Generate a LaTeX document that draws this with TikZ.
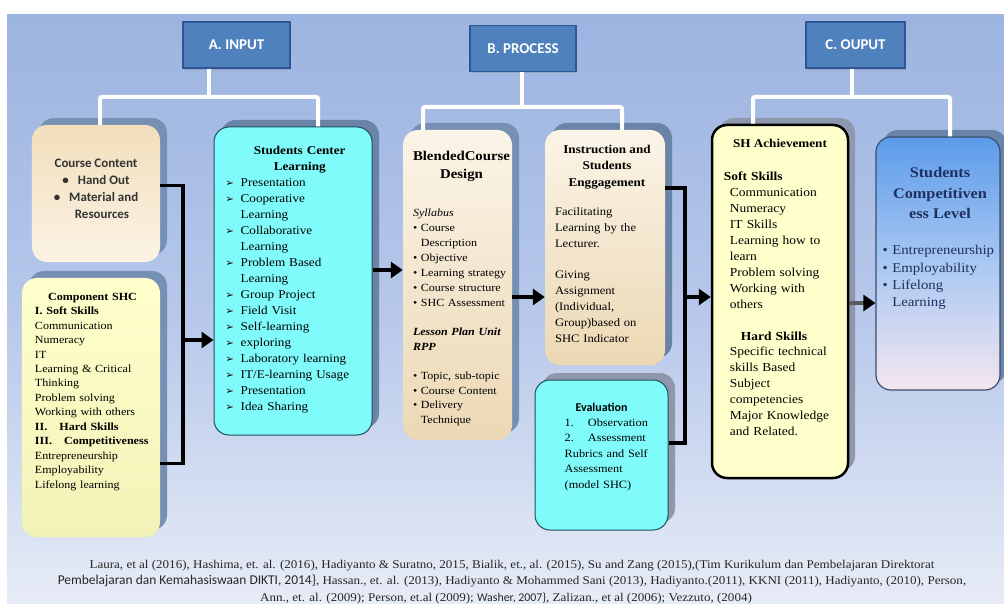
\documentclass[tikz,border=0pt]{standalone}
\usepackage{fontspec}
\setmainfont[FakeStretch=1.1]{Liberation Serif}
\newfontfamily\hdfont{Carlito}
\newfontfamily\symfont{DejaVu Sans}
\usepackage{xcolor}
\usetikzlibrary{positioning,shadows,arrows.meta}
\definecolor{bgtop}{HTML}{9CB4E0}
\definecolor{bgmid}{HTML}{B6C7EA}
\definecolor{bgbot}{HTML}{E7ECF6}
\definecolor{headfill}{HTML}{4F81BD}
\definecolor{headline}{HTML}{2F5597}
\definecolor{shadowc}{HTML}{7690B4}
\definecolor{shadowd}{HTML}{6A84A8}
\definecolor{shadowg}{HTML}{8E97AB}
\definecolor{beigetop}{HTML}{F2DEBC}
\definecolor{beigebot}{HTML}{FBF3E4}
\definecolor{tantop}{HTML}{FBF4E7}
\definecolor{tanbot}{HTML}{ECD8B4}
\definecolor{yelbox}{HTML}{FFFFCC}
\definecolor{cyanbox}{HTML}{80FBFB}
\definecolor{cyanline}{HTML}{1F4E5A}
\definecolor{stctop}{HTML}{5C9BEA}
\definecolor{stcmid}{HTML}{A9C8F2}
\definecolor{stcbot}{HTML}{F3E6EF}
\definecolor{stcline}{HTML}{3A4E6E}
\definecolor{navy}{HTML}{1F2F5F}
\definecolor{linkgray}{HTML}{5A5A5A}

\newcommand{\arrb}{\makebox[15bp][l]{\symfont\fontsize{10}{10}\selectfont ➢}}
\newcommand{\hang}{\phantom{\textbullet\ }}

\begin{document}
\begin{tikzpicture}[x=1bp,y=-1bp,>={Triangle[length=12bp,width=16bp]},
    every node/.style={inner sep=0pt},
    head/.style={draw=headline,line width=1.5bp,fill=headfill,text=white,
      font=\hdfont\bfseries\fontsize{15}{15}\selectfont,minimum height=46bp,
      drop shadow={shadow xshift=1bp,shadow yshift=-2bp,opacity=0.35}},
    panel/.style={rounded corners=15bp,
      drop shadow={shadow xshift=7bp,shadow yshift=7bp,fill=#1,opacity=1}},
    panel/.default=shadowc,
    body/.style={text width=#1,align=left},
    link/.style={line width=3.5bp,black},
    bracket/.style={line width=4bp,white,rounded corners=2bp}]

  \useasboundingbox (0,0) rectangle (1004,604);
  \fill[top color=bgtop,bottom color=bgbot,middle color=bgmid] (7,15) rectangle (1004,604);

  % headers
  \node[head,minimum width=107bp] (hin) at (236.5,45) {A. INPUT};
  \node[head,minimum width=106bp] (hproc) at (523,48.5) {B. PROCESS};
  \node[head,minimum width=99bp] (hout) at (855.5,45) {C. OUPUT};

  % boxes
  \node[panel,minimum width=128bp,minimum height=137bp,
    top color=beigetop,bottom color=beigebot] (cc) at (96,193.5) {};
  \node[panel,minimum width=138bp,minimum height=259bp,
    top color=yelbox,bottom color=yelbox!90!olive] (shc) at (91,407.5) {};
  \node[panel=shadowd,draw=cyanline,line width=1bp,fill=cyanbox,
    minimum width=158bp,minimum height=308bp] (scl) at (293,281) {};
  \node[panel,minimum width=109bp,minimum height=310bp,
    top color=tantop,bottom color=tanbot] (bcd) at (457.5,285) {};
  \node[panel=shadowd,minimum width=120bp,minimum height=235bp,
    top color=tantop,bottom color=tanbot] (ise) at (605,247.5) {};
  \node[panel=shadowg,draw=cyanline,line width=1bp,fill=cyanbox,
    minimum width=133bp,minimum height=150bp] (eva) at (601.5,455) {};
  \node[panel=shadowg,draw=black,line width=2.5bp,fill=yelbox,
    minimum width=136bp,minimum height=353bp] (sha) at (780,301.5) {};
  \node[panel=shadowd,draw=stcline,line width=1.2bp,top color=stctop,
    bottom color=stcbot,middle color=stcmid,
    minimum width=124bp,minimum height=253bp] (stc) at (938,263.5) {};

  % texts
  \node[font=\hdfont\bfseries\fontsize{13}{17}\selectfont,text=black!80,align=center,
    below=34bp of cc.north] (cctxt)
    {Course Content\\\textbullet\hspace{9bp}Hand Out\\
     \textbullet\hspace{9bp}Material and\\\hspace*{12bp}Resources};

  \node[body=115bp,font=\fontsize{11}{14.5}\selectfont,
    below right=15bp and 13bp of shc.north west] (shctxt)
    {\centerline{\textbf{Component SHC}}
     \textbf{I. Soft Skills}\\
     Communication\\Numeracy\\IT\\Learning \& Critical\\Thinking\\
     Problem solving\\Working with others\\
     \textbf{II.\hspace{12bp}Hard Skills}\\
     \textbf{III.\hspace{12bp}Competitiveness}\\
     Entrepreneurship\\Employability\\Lifelong learning};

  \node[body=148bp,font=\fontsize{12}{16}\selectfont,
    below right=20bp and 12bp of scl.north west] (scltxt)
    {\centerline{\textbf{Students Center}}
     \centerline{\textbf{Learning}}
     \arrb Presentation\\
     \arrb Cooperative\\\hspace*{15bp}Learning\\
     \arrb Collaborative\\\hspace*{15bp}Learning\\
     \arrb Problem Based\\\hspace*{15bp}Learning\\
     \arrb Group Project\\
     \arrb Field Visit\\
     \arrb Self-learning\\
     \arrb exploring\\
     \arrb Laboratory learning\\
     \arrb IT/E-learning Usage\\
     \arrb Presentation\\
     \arrb Idea Sharing};

  \node[font=\bfseries\fontsize{13.5}{18}\selectfont,align=center,
    below=21bp of bcd.north,xshift=4bp] (bcdtitle) {BlendedCourse\\Design};
  \node[body=100bp,font=\fontsize{11}{15}\selectfont,
    below right=79bp and 10bp of bcd.north west] (bcdtxt)
    {\textit{Syllabus}\\
     \textbullet\ Course\\\hang Description\\
     \textbullet\ Objective\\
     \textbullet\ Learning strategy\\
     \textbullet\ Course structure\\
     \textbullet\ SHC Assessment\\[14bp]
     \textbf{\textit{Lesson Plan Unit}}\\
     \textbf{\textit{RPP}}\\[14bp]
     \textbullet\ Topic, sub-topic\\
     \textbullet\ Course Content\\
     \textbullet\ Delivery\\\hang Technique};

  \node[font=\bfseries\fontsize{12}{16.5}\selectfont,align=center,
    below=15bp of ise.north,xshift=2bp] (isetitle)
    {Instruction and\\Students\\Enggagement};
  \node[body=108bp,font=\fontsize{11.5}{16}\selectfont,
    below right=78bp and 10bp of ise.north west] (isetxt)
    {Facilitating\\Learning by the\\Lecturer.\\[15bp]
     Giving\\Assignment\\(Individual,\\Group)based on\\SHC Indicator};

  \node[font=\hdfont\bfseries\fontsize{12}{12}\selectfont,
    below=23bp of eva.north] (evatitle) {Evaluation};
  \node[body=100bp,font=\fontsize{11.2}{15.5}\selectfont,
    below right=39bp and 30bp of eva.north west] (evatxt)
    {1.\hspace{14bp}Observation\\2.\hspace{14bp}Assessment\\
     Rubrics and Self\\Assessment\\(model SHC)};

  \node[font=\bfseries\fontsize{12}{12}\selectfont,
    below=15bp of sha.north] (shatitle) {SH Achievement};
  \node[body=112bp,font=\fontsize{12.3}{16}\selectfont,
    below right=48bp and 19bp of sha.north west] (shatxt)
    {\hspace*{-6bp}\textbf{Soft Skills}\\
     Communication\\Numeracy\\IT Skills\\Learning how to\\learn\\
     Problem solving\\Working with\\others\\[16bp]
     \hspace*{11bp}\textbf{Hard Skills}\\
     Specific technical\\skills Based\\Subject\\competencies\\
     Major Knowledge\\and Related.};

  \node[font=\bfseries\fontsize{14.8}{20.5}\selectfont,text=navy,align=center,
    below=31bp of stc.north,xshift=2bp] (stctitle)
    {Students\\Competitiven\\ess Level};
  \node[body=115bp,font=\fontsize{13.5}{17.3}\selectfont,text=navy,
    below right=109bp and 7bp of stc.north west] (stctxt)
    {\textbullet\ Entrepreneurship\\\textbullet\ Employability\\
     \textbullet\ Lifelong\\\hang Learning};

  % references
  \node[font=\fontsize{11.9}{16.5}\selectfont,align=center,text=black!85] (refs) at (512,582)
    {Laura, et al (2016), Hashima, et. al. (2016), Hadiyanto \& Suratno, 2015, Bialik, et., al. (2015), Su and Zang (2015),(Tim Kurikulum dan Pembelajaran Direktorat\\
     {\hdfont\fontsize{13.5}{16.5}\selectfont Pembelajaran dan Kemahasiswaan DIKTI, 2014\}}, Hassan., et. al. (2013), Hadiyanto \& Mohammed Sani (2013), Hadiyanto.(2011), KKNI (2011), Hadiyanto, (2010), Person,\\
     \hspace*{-12bp}Ann., et. al. (2009); Person, et.al (2009); {\hdfont Washer, 2007\}}, Zalizan., et al (2006); Vezzuto, (2004)};

  % brackets
  \coordinate (ba) at (209,97);
  \coordinate (bb) at (522,107);
  \coordinate (bc) at (852,97);
  \draw[bracket] (ba |- hin.south) -- (ba);
  \draw[bracket] ([xshift=4bp]cc.north) |- (ba) -| ([xshift=25bp]scl.north);
  \draw[bracket] (bb |- hproc.south) -- (bb);
  \draw[bracket] ([xshift=-34.5bp]bcd.north) |- (bb) -| ([xshift=17bp]ise.north);
  \draw[bracket] (bc |- hout.south) -- (bc);
  \draw[bracket] ([xshift=-27bp]sha.north) |- (bc) -| ([xshift=12bp]stc.north);

  % connectors
  \coordinate (j1) at (183,340);
  \coordinate (j2) at (685,297);
  \draw[link] ([yshift=8bp]cc.east) -| (j1) |- ([yshift=-56bp]shc.east);
  \draw[link,->] (j1) -- (scl.west |- j1);
  \draw[link,->] ([yshift=11bp]scl.east) -- ([yshift=11bp]scl.east -| bcd.west);
  \draw[link,->] ([yshift=-12bp]bcd.east) -- ([yshift=-12bp]bcd.east -| ise.west);
  \draw[link] ([yshift=59.5bp]ise.east) -| (j2) |- ([yshift=12bp]eva.east);
  \draw[link,->] (j2) -- (sha.west |- j2);
  \draw[link,draw=linkgray,-{Triangle[length=12bp,width=16bp,color=black]}]
    ([yshift=-1.5bp]sha.east) -- ([yshift=-1.5bp]sha.east -| stc.west);
\end{tikzpicture}
\end{document}
